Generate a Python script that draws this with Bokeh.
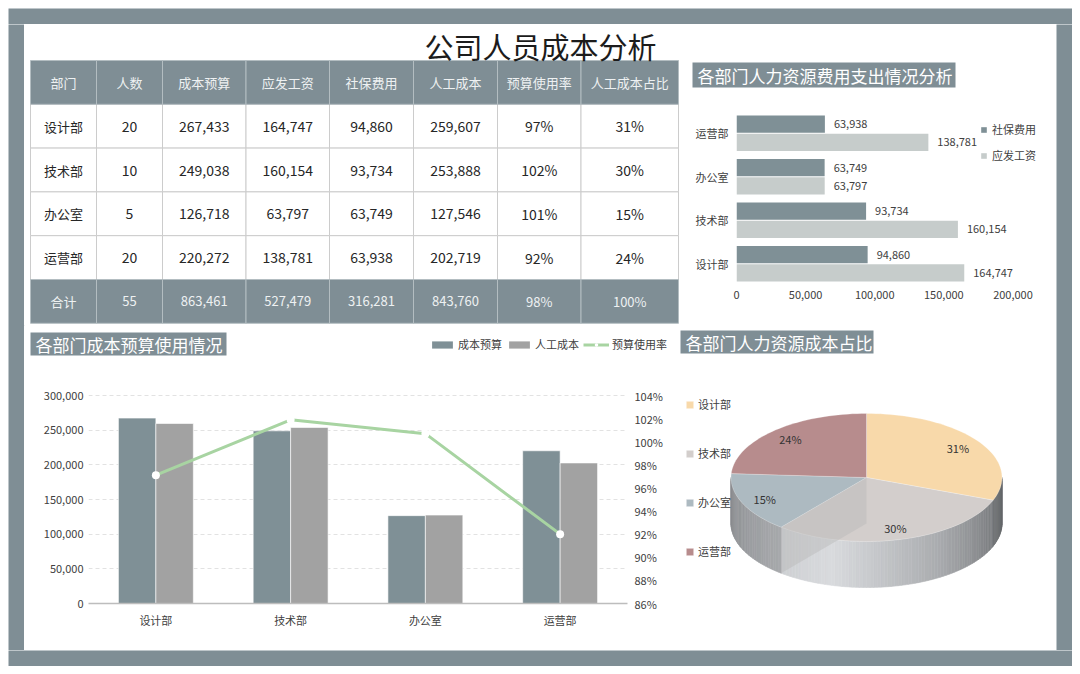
import math
from bokeh.plotting import figure
from bokeh.layouts import row, column
from bokeh.models import (Range1d, FactorRange, LinearAxis, FixedTicker, Spacer,
                          NumeralTickFormatter, Legend, LegendItem, Label, ColumnDataSource)
from bokeh.transform import dodge
from bokeh.core.properties import value
from bokeh.embed import file_html
from bokeh.resources import INLINE

# ---------------- data ----------------
departments = ["设计部", "技术部", "办公室", "运营部"]
headcount = [20, 10, 5, 20]
cost_budget = [267433, 249038, 126718, 220272]
gross_salary = [164747, 160154, 63797, 138781]
social_insurance = [94860, 93734, 63749, 63938]
labor_cost = [259607, 253888, 127546, 202719]
budget_usage = [0.971, 1.019, 1.007, 0.920]

table_headers = ["部门", "人数", "成本预算", "应发工资", "社保费用", "人工成本", "预算使用率", "人工成本占比"]
total_label = "合计"
main_title = "公司人员成本分析"
hbar_title = "各部门人力资源费用支出情况分析"
combo_title = "各部门成本预算使用情况"
pie_title = "各部门人力资源成本占比"
amount_ticks = [0, 50000, 100000, 150000, 200000, 250000, 300000]
hbar_ticks = [0, 50000, 100000, 150000, 200000]
rate_ticks = [0.86, 0.88, 0.90, 0.92, 0.94, 0.96, 0.98, 1.00, 1.02, 1.04]
name_social, name_salary = "社保费用", "应发工资"
name_budget, name_labor, name_usage = "成本预算", "人工成本", "预算使用率"

# ---------------- styles ----------------
FONT = "Noto Sans CJK SC"
FRAME = "#7f8e95"
SLATE = "#7f9096"
LIGHT = "#c6cccb"
GRAY = "#a2a2a2"
GREEN = "#a8d4a2"
TEXT = "#404040"
PIE_COLORS = ["#f8d9aa", "#d3cecc", "#adbac1", "#b78c8d"]


def fmt(n):
    return f"{n:,}"


def pct(v):
    return f"{round(v * 100)}%"


def base_fig(w, h, **kw):
    return figure(width=w, height=h, toolbar_location=None, output_backend="svg", **kw)


def plain_fig(w, h, **kw):
    # full-frame figure whose data units are pixels (y measured downward)
    return base_fig(w, h, x_axis_type=None, y_axis_type=None, min_border=0,
                    outline_line_color=None, x_range=Range1d(0, w), y_range=Range1d(h, 0), **kw)


def gray_bar(w, h):
    return base_fig(w, h, x_axis_type=None, y_axis_type=None, min_border=0,
                    outline_line_color=None, x_range=Range1d(0, 1), y_range=Range1d(0, 1),
                    background_fill_color=FRAME, border_fill_color=FRAME)


def title_box(p, left, top, width, height, text):
    p.rect(x=[left + width / 2], y=[top + height / 2], width=[width], height=[height],
           fill_color=FRAME, line_color=None)
    p.text(x=[left + 5], y=[top + height / 2], text=[text], text_font=value(FONT),
           text_font_size="17px", text_color="white", text_baseline="middle",
           text_align="left")


def W(p):
    return column(p)


# ================= table + main title =================
TW, TH = 662, 301
tab = plain_fig(TW, TH)
col_w = [66, 66, 83.5, 83.5, 84, 84, 83.5, 97.5]
TX0, TY0, ROW_H = 6, 36, 43.8
col_x = []
acc = TX0
for w in col_w:
    col_x.append(acc + w / 2)
    acc += w

tot_budget = sum(cost_budget)
tot_salary = sum(gross_salary)
tot_social = sum(social_insurance)
tot_labor = sum(labor_cost)

rows = [table_headers]
for i, d in enumerate(departments):
    rows.append([d, str(headcount[i]), fmt(cost_budget[i]), fmt(gross_salary[i]),
                 fmt(social_insurance[i]), fmt(labor_cost[i]), pct(budget_usage[i]),
                 pct(labor_cost[i] / tot_labor)])
rows.append([total_label, str(sum(headcount)), fmt(tot_budget), fmt(tot_salary), fmt(tot_social),
             fmt(tot_labor), pct(tot_labor / tot_budget), pct(1.0)])

cells = {k: dict(x=[], y=[], w=[], t=[]) for k in ("name", "num", "head")}
for r, rr in enumerate(rows):
    for c, t in enumerate(rr):
        if 0 < r < len(rows) - 1:
            kind = "name" if c == 0 else "num"
        else:
            kind = "head"
        cells[kind]["x"].append(col_x[c])
        cells[kind]["y"].append(TY0 + (r + 0.5) * ROW_H)
        cells[kind]["w"].append(col_w[c])
        cells[kind]["t"].append(t)

src_name = ColumnDataSource(cells["name"])
src_num = ColumnDataSource(cells["num"])
src_head = ColumnDataSource(cells["head"])
for s in (src_name, src_num):
    tab.rect(x="x", y="y", width="w", height=ROW_H, source=s, fill_color="white",
             line_color="#cccccc", line_width=1)
tab.rect(x="x", y="y", width="w", height=ROW_H, source=src_head, fill_color=FRAME,
         line_color="#b3bdc1", line_width=1)
tab.text(x="x", y="y", text="t", source=src_name, text_align="center", text_baseline="middle",
         text_font=value(FONT), text_font_size="13px", text_color="#262626")
tab.text(x="x", y="y", text="t", source=src_num, text_align="center", text_baseline="middle",
         text_font=value(FONT), text_font_size="14px", text_color="#262626")
tab.text(x="x", y="y", text="t", source=src_head, text_align="center", text_baseline="middle",
         text_font=value(FONT), text_font_size="13px", text_color="#eef1f2")
tab.add_layout(Label(x=516, y=21, text=main_title, text_font=FONT, text_font_size="29px",
                     text_color="#1c1c1c", text_align="center", text_baseline="middle"))

# ================= horizontal bar chart =================
HW = 370
hb_head = plain_fig(HW, 66)
title_box(hb_head, 6, 38, 263, 25, hbar_title)

HH = 235
HB_L, HB_R, HB_T, HB_B = 50, 6, 21, 40
px_per_unit_h = 276.5 / 200000
hb = base_fig(HW, HH, y_range=FactorRange(factors=departments),
              x_range=Range1d(0, (HW - HB_L - HB_R) / px_per_unit_h),
              min_border_left=HB_L, min_border_right=HB_R, min_border_top=HB_T,
              min_border_bottom=HB_B, outline_line_color=None)
hsrc = ColumnDataSource(dict(dept=departments, social=social_insurance, salary=gross_salary,
                             social_txt=[fmt(v) for v in social_insurance],
                             salary_txt=[fmt(v) for v in gross_salary]))
r_soc = hb.hbar(y=dodge("dept", 0.21, range=hb.y_range), right="social", height=0.4,
                source=hsrc, fill_color=SLATE, line_color=None)
r_sal = hb.hbar(y=dodge("dept", -0.21, range=hb.y_range), right="salary", height=0.4,
                source=hsrc, fill_color=LIGHT, line_color=None)
for col, off in (("social", 0.21), ("salary", -0.21)):
    hb.text(x=col, y=dodge("dept", off, range=hb.y_range), text=col + "_txt", source=hsrc,
            x_offset=9, text_baseline="middle", text_align="left", text_font=value(FONT),
            text_font_size="11px", text_color=TEXT)
hb.xaxis.ticker = FixedTicker(ticks=hbar_ticks)
hb.xaxis.formatter = NumeralTickFormatter(format="0,0")
for ax in hb.axis:
    ax.axis_line_color = None
    ax.major_tick_line_color = None
    ax.minor_tick_line_color = None
    ax.major_tick_out = 0
    ax.major_tick_in = 0
    ax.major_label_text_font = FONT
    ax.major_label_text_font_size = "11px"
    ax.major_label_text_color = TEXT
hb.xaxis.major_label_standoff = 5
hb.yaxis.major_label_standoff = 8
hb.grid.visible = False
hleg = Legend(items=[LegendItem(label=name_social, renderers=[r_soc]),
                     LegendItem(label=name_salary, renderers=[r_sal])],
              location=(244, 120), glyph_width=7, glyph_height=7, label_standoff=5,
              spacing=6, padding=0, margin=0, label_height=20, label_text_font=FONT,
              label_text_font_size="11px", label_text_color=TEXT,
              background_fill_alpha=0, border_line_color=None)
hb.add_layout(hleg)

# ================= combo chart =================
CW = 650
cb_head = plain_fig(CW, 36)
title_box(cb_head, 6, 7, 196, 23, combo_title)

CH = 289
CB_L, CB_R, CB_T, CB_B = 64, 47, 5, 47
frame_h = CH - CB_T - CB_B
amount_px = 208 / 300000
cb = base_fig(CW, CH, x_range=FactorRange(factors=departments),
              y_range=Range1d(0, frame_h / amount_px),
              min_border_left=CB_L, min_border_right=CB_R, min_border_top=CB_T,
              min_border_bottom=CB_B, outline_line_color=None)
cb.extra_y_ranges = {"rate": Range1d(0.86, 0.86 + frame_h * 0.18 / 208)}
csrc = ColumnDataSource(dict(dept=departments, budget=cost_budget, labor=labor_cost,
                             rate=budget_usage))
bar_style = [dict(fill_color=SLATE), dict(fill_color=GRAY)]
line_style = dict(line_color=GREEN, line_width=3)
dot_style = dict(size=8, fill_color="white", line_color=None)
cb.vbar(x=dodge("dept", -0.139, range=cb.x_range), top="budget", width=0.278,
        source=csrc, line_color="white", line_width=0.6, **bar_style[0])
cb.vbar(x=dodge("dept", 0.139, range=cb.x_range), top="labor", width=0.278,
        source=csrc, line_color="white", line_width=0.6, **bar_style[1])
cb.line(x="dept", y="rate", source=csrc, y_range_name="rate", **line_style)
cb.scatter(x="dept", y="rate", source=csrc, y_range_name="rate", **dot_style)
cb.yaxis.ticker = FixedTicker(ticks=amount_ticks)
cb.yaxis.formatter = NumeralTickFormatter(format="0,0")
rax = LinearAxis(y_range_name="rate", ticker=FixedTicker(ticks=rate_ticks),
                 formatter=NumeralTickFormatter(format="0%"))
cb.add_layout(rax, "right")
for ax in cb.axis:
    ax.axis_line_color = None
    ax.major_tick_line_color = None
    ax.minor_tick_line_color = None
    ax.major_tick_out = 0
    ax.major_tick_in = 0
    ax.major_label_text_font = FONT
    ax.major_label_text_font_size = "11px"
    ax.major_label_text_color = TEXT
cb.xaxis.axis_line_color = "#bdbdbd"
cb.xaxis.axis_line_width = 1.5
cb.xaxis.major_label_standoff = 8
cb.yaxis.major_label_standoff = 5
rax.major_label_standoff = 7
cb.xgrid.visible = False
cb.ygrid.ticker = FixedTicker(ticks=amount_ticks)
cb.ygrid.grid_line_color = "#e2e2e2"
cb.ygrid.grid_line_dash = "4 3"

# legend of the combo chart, on the title line; swatch renderers use the series styles
# and sit outside the visible range so that only their legend swatches show
off = [-100.0]
lg_b1 = cb_head.vbar(x=off, top=off, bottom=off, width=1, line_color=None, **bar_style[0])
lg_b2 = cb_head.vbar(x=off, top=off, bottom=off, width=1, line_color=None, **bar_style[1])
lg_ln = cb_head.line(x=[-100.0, -90.0], y=[-100.0, -100.0], **line_style)
lg_dt = cb_head.scatter(x=off, y=off, **dot_style)
cleg = Legend(items=[LegendItem(label=name_budget, renderers=[lg_b1]),
                     LegendItem(label=name_labor, renderers=[lg_b2]),
                     LegendItem(label=name_usage, renderers=[lg_ln, lg_dt])],
              orientation="horizontal", location=(405, 9), glyph_width=26, glyph_height=9,
              label_standoff=3, spacing=4, padding=0, margin=0, label_text_font=FONT,
              label_text_font_size="11px", label_text_color=TEXT,
              background_fill_alpha=0, border_line_color=None)
cb_head.add_layout(cleg)

# ================= 3D-style pie =================
PW, PH = 382, 325
pie = plain_fig(PW, PH)
CX, CY, RX, RY, DEPTH = 192, 152, 135.5, 64, 46


def ex(t):
    return CX + RX * math.sin(math.radians(t))


def ey(t):
    return CY - RY * math.cos(math.radians(t))


fracs = [v / tot_labor for v in labor_cost]
bounds = [0.0]
for f in fracs:
    bounds.append(bounds[-1] + 360 * f)
b1, b2 = bounds[1], bounds[2]

shade = [(90, 96), (b1, 112), (b1 + 0.01, 122), (150, 172), (195, 217), (b2, 206),
         (b2 + 0.01, 168), (270, 138)]


def shade_at(a):
    for (a0, g0), (a1, g1) in zip(shade[:-1], shade[1:]):
        if a0 <= a <= a1:
            g = g0 + (g1 - g0) * (a - a0) / (a1 - a0)
            return "#%02x%02x%02x" % (int(g), int(g) + 2, min(255, int(g) + 5))
    return "#999999"


sxs, sys_, scs = [], [], []
a = 90.0
while a < 270:
    b = min(a + 1.5, 270.0)
    sxs.append([ex(a), ex(b), ex(b), ex(a)])
    sys_.append([ey(a), ey(b), ey(b) + DEPTH, ey(a) + DEPTH])
    scs.append(shade_at((a + b) / 2))
    a = b
pie.patches(xs="xs", ys="ys", source=ColumnDataSource(dict(xs=sxs, ys=sys_, c=scs)),
            fill_color="c", line_color="c", line_width=0.6)

txs, tys = [], []
for i in range(len(departments)):
    a0, a1 = bounds[i], bounds[i + 1]
    n = max(8, int((a1 - a0) / 2))
    angs = [a0 + (a1 - a0) * k / n for k in range(n + 1)]
    txs.append([CX] + [ex(t) for t in angs])
    tys.append([CY] + [ey(t) for t in angs])
top_r = pie.patches(xs="xs", ys="ys",
                    source=ColumnDataSource(dict(xs=txs, ys=tys, c=PIE_COLORS, d=departments)),
                    fill_color="c", line_color="white", line_alpha=0.4, line_width=0.6)
pie.patch(x=[CX, ex(b2), ex(b2), CX], y=[CY, ey(b2), ey(b2) + DEPTH, CY + DEPTH],
          fill_color="#b9b7b7", fill_alpha=0.45, line_color=None)

lx, ly, lt = [], [], []
for i in range(len(departments)):
    m = (bounds[i] + bounds[i + 1]) / 2
    lx.append(CX + 0.82 * RX * math.sin(math.radians(m)))
    ly.append(CY - 0.82 * RY * math.cos(math.radians(m)))
    lt.append(pct(fracs[i]))
pie.text(x="x", y="y", text="t", source=ColumnDataSource(dict(x=lx, y=ly, t=lt)),
         text_align="center", text_baseline="middle", text_font=value(FONT),
         text_font_size="11px", text_color="#333333")
pleg = Legend(items=[LegendItem(label=d, renderers=[top_r], index=i)
                     for i, d in enumerate(departments)],
              location=(11, 89), glyph_width=9, glyph_height=9, label_standoff=4,
              spacing=29, padding=0, margin=0, label_height=20, label_text_font=FONT,
              label_text_font_size="11px", label_text_color=TEXT,
              background_fill_alpha=0, border_line_color=None)
pie.add_layout(pleg)
title_box(pie, 6, 5, 193, 23, pie_title)

# ================= layout with frame =================
row1 = row(W(tab), column(W(hb_head), W(hb)))
row2 = row(column(W(cb_head), W(cb)), W(pie))
content = column(row1, row2)
framed = column(W(gray_bar(1064, 16)),
                row(W(gray_bar(16, 626)), content, W(gray_bar(16, 626))),
                W(gray_bar(1064, 16)))
page = column(Spacer(width=1072, height=8), row(Spacer(width=8, height=658), framed))

open("out.html", "w").write(file_html(page, INLINE))
